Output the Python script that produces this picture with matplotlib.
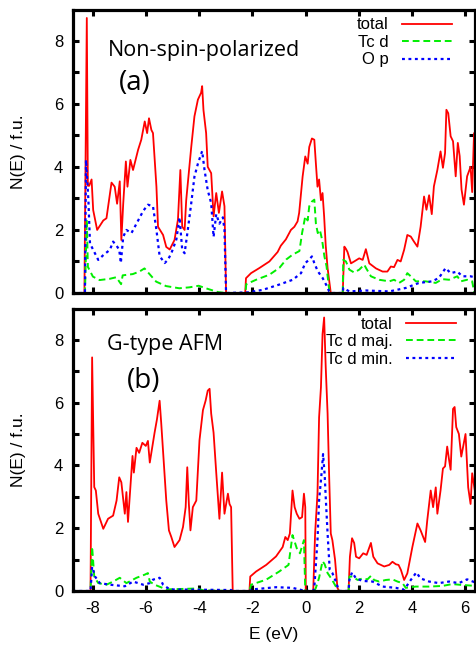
import matplotlib
matplotlib.use("Agg")
from matplotlib import pyplot as plt
from matplotlib.ticker import MultipleLocator

# Panel (a): non-spin-polarized, total
e_tot_a = [-8.75, -8.32, -8.23, -8.19, -8.14, -8.05, -7.99, -7.84, -7.61, -7.49, -7.30, -7.18, -7.09,
           -6.99, -6.93, -6.86, -6.76, -6.70, -6.59, -6.49, -6.30, -6.18, -6.05, -5.96, -5.89, -5.80,
           -5.74, -5.61, -5.55, -5.36, -5.24, -5.11, -4.93, -4.80, -4.71, -4.64, -4.55, -4.49, -4.30,
           -4.18, -4.05, -3.93, -3.89, -3.84, -3.74, -3.68, -3.55, -3.46, -3.36, -3.26, -3.14, -3.05,
           -2.99, -2.27, -2.24, -2.05, -1.74, -1.36, -1.05, -0.93, -0.74, -0.55, -0.42, -0.30, -0.24,
           -0.11, -0.01, 0.08, 0.14, 0.24, 0.33, 0.39, 0.45, 0.51, 0.58, 0.64, 0.70, 0.76, 0.83, 0.95,
           1.40, 1.46, 1.52, 1.58, 1.71, 1.83, 2.02, 2.15, 2.27, 2.40, 2.65, 2.90, 3.08, 3.21, 3.33,
           3.46, 3.58, 3.71, 3.83, 3.96, 4.08, 4.21, 4.33, 4.46, 4.55, 4.65, 4.75, 4.83, 4.96, 5.08,
           5.17, 5.25, 5.30, 5.37, 5.46, 5.55, 5.65, 5.73, 5.80, 5.87, 5.96, 6.08, 6.21, 6.27, 6.34, 6.45]
dos_tot_a = [0, 0, 8.72, 3.4, 3.4, 3.6, 2.63, 2.0, 2.3, 2.37, 3.5, 3.37, 2.83,
             3.54, 1.68, 2.83, 4.17, 3.37, 4.22, 3.9, 4.54, 4.86, 5.44, 5.07, 5.54, 5.17,
             5.07, 3.37, 2.1, 1.84, 1.46, 1.38, 1.68, 2.33, 3.9, 2.1, 2.0, 2.94, 4.63,
             5.6, 6.13, 6.35, 6.56, 5.8, 5.07, 4.0, 3.8, 2.43, 3.17, 2.54, 3.22, 2.75,
             0, 0, 0.47, 0.63, 0.79, 1.0, 1.3, 1.5, 1.7, 2.0, 2.1, 2.27, 2.54,
             3.69, 4.33, 4.1, 4.63, 4.9, 4.86, 4.1, 3.37, 3.6, 2.94, 3.17, 2.43, 1.5, 0.79, 0,
             0, 1.47, 1.4, 1.3, 0.94, 1.0, 1.1, 1.05, 1.39, 0.94, 0.78, 0.68, 0.68, 0.84, 0.82,
             1.05, 1.0, 1.37, 1.84, 1.79, 1.63, 1.47, 2.1, 3.06, 2.64, 3.1, 2.5, 3.38, 3.9, 4.49,
             3.97, 4.44, 5.81, 5.7, 4.97, 4.81, 3.7, 4.76, 4.34, 3.28, 2.8, 3.7, 4.0, 3.2, 5.07, 4.6]

# Panel (a): Tc d
e_tcd_a = [-8.75, -8.30, -8.23, -8.19, -8.00, -7.75, -7.37, -7.12, -6.94, -6.88, -6.50, -6.25, -6.06,
           -5.87, -5.62, -5.25, -4.75, -4.37, -4.02, -3.75, -3.30, -3.00,
           -2.26, -2.23, -1.86, -1.36, -0.98, -0.73, -0.48, -0.23, -0.13, -0.01, 0.08, 0.14, 0.24,
           0.33, 0.39, 0.46, 0.54, 0.62, 0.71, 0.79, 0.89, 0.96,
           1.40, 1.42, 1.52, 1.65, 1.83, 2.02, 2.21, 2.27, 2.46, 2.77, 3.15, 3.33, 3.52, 3.71, 3.83,
           3.96, 4.15, 4.52, 4.90, 5.15, 5.40, 5.71, 5.84, 6.08, 6.27, 6.34, 6.45]
dos_tcd_a = [0, 0, 2.32, 0.83, 0.52, 0.41, 0.45, 0.5, 0.28, 0.56, 0.6, 0.68, 0.78,
             0.6, 0.36, 0.22, 0.15, 0.18, 0.23, 0.15, 0.03, 0,
             0, 0.28, 0.42, 0.58, 0.8, 1.06, 1.22, 1.33, 1.9, 2.43, 2.3, 2.75, 2.9,
             2.96, 2.2, 1.9, 2.0, 1.7, 1.16, 0.85, 0.1, 0,
             0, 1.05, 1.0, 0.74, 0.65, 0.74, 0.9, 0.8, 0.53, 0.42, 0.37, 0.42, 0.32, 0.42, 0.63,
             0.53, 0.37, 0.37, 0.32, 0.44, 0.42, 0.53, 0.37, 0.42, 0.37, 0.05, 0.05]

# Panel (a): O p
e_op_a = [-8.75, -8.30, -8.26, -8.17, -8.11, -7.99, -7.80, -7.61, -7.36, -7.24, -7.11, -7.01, -6.95,
          -6.86, -6.74, -6.55, -6.36, -6.11, -5.93, -5.74, -5.61, -5.49, -5.30, -5.18, -5.05, -4.86,
          -4.74, -4.64, -4.55, -4.43, -4.30, -4.18, -4.05, -3.89, -3.80, -3.68, -3.55, -3.46, -3.36,
          -3.24, -3.11, -3.05, -2.99,
          -2.17, -1.61, -0.98, -0.48, -0.17, -0.01, 0.14, 0.24, 0.33, 0.46, 0.64, 0.77, 0.89, 0.96,
          1.40, 1.42, 1.65, 2.27, 3.15, 3.77, 4.27, 4.77, 5.02, 5.27, 5.46, 5.71, 5.90, 6.21, 6.45]
dos_op_a = [0, 0, 4.22, 2.95, 1.57, 1.37, 1.05, 1.2, 1.37, 1.63, 1.5, 1.37, 0.95,
            1.78, 2.0, 1.9, 2.2, 2.6, 2.8, 2.75, 2.0, 1.17, 0.95, 1.05, 1.26, 1.7,
            2.4, 1.37, 1.26, 2.0, 2.85, 3.69, 4.1, 4.5, 3.9, 3.26, 2.85, 1.78, 2.5,
            2.2, 2.4, 2.0, 0,
            0.02, 0.1, 0.27, 0.42, 0.63, 0.95, 1.06, 1.16, 0.95, 0.69, 0.48, 0.27, 0.05, 0,
            0, 0.16, 0.05, 0.08, 0.05, 0.16, 0.32, 0.37, 0.48, 0.79, 0.63, 0.68, 0.53, 0.53, 0.48]

# Panel (b): G-type AFM, total
e_tot_b = [-8.75, -8.09, -8.03, -7.95, -7.89, -7.80, -7.61, -7.43, -7.24, -7.11, -7.01, -6.93, -6.80,
           -6.74, -6.68, -6.59, -6.51, -6.46, -6.36, -6.26, -6.14, -6.01, -5.93, -5.86, -5.76, -5.68,
           -5.59, -5.49, -5.43, -5.34, -5.24, -5.14, -5.05, -4.93, -4.74, -4.61, -4.51, -4.45, -4.39,
           -4.33, -4.24, -4.11, -3.99, -3.86, -3.76, -3.68, -3.61, -3.55, -3.46, -3.36, -3.24, -3.14,
           -3.05, -2.92, -2.86, -2.80, -2.74,
           -2.11, -2.08, -1.86, -1.48, -1.11, -0.86, -0.76, -0.67, -0.59, -0.49, -0.41, -0.33, -0.23,
           -0.13, -0.06, -0.01, 0.01,
           0.29, 0.36, 0.45, 0.51, 0.58, 0.64, 0.70, 0.76, 0.83, 0.89, 0.95, 1.01, 1.11, 1.20, 1.26,
           1.62, 1.67, 1.75, 1.83, 1.90, 2.02, 2.17, 2.30, 2.46, 2.55, 2.71, 2.96, 3.15, 3.27, 3.40,
           3.50, 3.59, 3.71, 3.83, 4.02, 4.21, 4.33, 4.50, 4.58, 4.71, 4.80, 4.90, 4.96, 5.08, 5.17,
           5.25, 5.33, 5.40, 5.46, 5.55, 5.61, 5.67, 5.77, 5.86, 5.93, 6.02, 6.12, 6.21, 6.27, 6.37, 6.45]
dos_tot_b = [0, 0, 7.44, 3.31, 3.2, 2.46, 1.98, 2.3, 2.4, 2.88, 3.62, 3.46, 2.46,
             3.15, 2.2, 3.3, 4.3, 3.77, 4.56, 4.4, 4.72, 4.62, 4.78, 4.09, 4.62, 5.04,
             5.47, 6.06, 5.35, 4.2, 2.88, 1.93, 1.72, 1.4, 1.62, 2.04, 2.67, 3.94, 2.77,
             1.93, 2.67, 2.88, 4.8, 5.76, 6.06, 6.38, 6.44, 5.65, 5.04, 3.77, 2.3, 3.77,
             2.46, 3.1, 2.77, 2.67, 0,
             0, 0.46, 0.62, 0.83, 1.1, 1.4, 1.72, 1.62, 1.83, 3.2, 2.67, 2.46, 2.3,
             2.35, 3.1, 2.67, 0,
             0, 1.83, 3.1, 5.53, 6.49, 8.18, 8.71, 7.12, 5.65, 3.62, 1.83, 1.62, 1.0, 0.1, 0,
             0, 1.09, 1.68, 1.53, 1.09, 1.04, 1.2, 1.15, 1.53, 1.09, 0.88, 0.78, 0.83, 0.93, 0.85,
             0.83, 0.67, 0.35, 0.56, 1.4, 2.15, 1.93, 1.56, 2.25, 3.2, 2.67, 3.3, 2.46, 3.2, 3.9,
             3.97, 4.6, 4.18, 3.86, 5.8, 5.86, 5.22, 5.0, 4.28, 4.6, 5.0, 3.3, 2.77, 3.75, 3.2, 3.6]

# Panel (b): Tc d majority
e_maj_b = [-8.75, -8.09, -8.03, -7.95, -7.80, -7.49, -7.24, -6.99, -6.74, -6.36, -6.05, -5.93, -5.86,
           -5.68, -5.24, -4.05, -3.86, -2.74,
           -2.11, -2.05, -1.48, -0.99, -0.64, -0.49, -0.33, -0.21, -0.06, -0.01,
           0.33, 0.39, 0.51, 0.64, 0.72, 0.83, 0.95, 1.07, 1.20, 1.26,
           1.62, 1.65, 1.77, 1.96, 2.15, 2.33, 2.46, 2.58, 2.77, 3.02, 3.27, 3.46, 3.65, 3.77,
           4.15, 4.65, 5.15, 5.52, 5.90, 6.45]
dos_maj_b = [0, 0, 1.41, 0.46, 0.25, 0.2, 0.3, 0.42, 0.25, 0.42, 0.52, 0.57, 0.3,
             0.2, 0.05, 0.08, 0.02, 0,
             0, 0.2, 0.36, 0.62, 0.83, 1.78, 1.36, 1.2, 1.62, 0,
             0, 0.1, 0.42, 0.95, 0.85, 0.57, 0.42, 0.25, 0.05, 0,
             0, 0.46, 0.46, 0.35, 0.4, 0.37, 0.48, 0.35, 0.3, 0.35, 0.37, 0.3, 0.25, 0.1,
             0.14, 0.14, 0.16, 0.22, 0.19, 0.16]

# Panel (b): Tc d minority
e_min_b = [-8.75, -8.09, -8.03, -7.92, -7.74, -7.36, -6.80, -6.49, -6.11, -5.86, -5.74, -5.49, -5.36,
           -5.11, -2.80, -2.74,
           -2.11, -1.99, -1.11, -0.49, -0.01,
           0.29, 0.33, 0.45, 0.51, 0.59, 0.66, 0.72, 0.76, 0.83, 0.91, 1.01, 1.14, 1.24, 1.26,
           1.62, 1.65, 1.75, 1.90, 2.15, 2.52, 2.90, 3.40, 3.71, 3.96, 4.17, 4.33, 4.65, 5.02, 5.40,
           5.77, 6.08, 6.45]
dos_min_b = [0, 0, 0.77, 0.46, 0.25, 0.2, 0.15, 0.3, 0.2, 0.25, 0.36, 0.42, 0.2,
             0.05, 0.03, 0,
             0, 0.05, 0.12, 0.1, 0,
             0, 0.1, 1.62, 2.88, 3.62, 4.36, 3.7, 2.98, 1.83, 0.67, 0.57, 0.3, 0.05, 0,
             0, 0.35, 0.59, 0.4, 0.32, 0.3, 0.14, 0.1, 0.04, 0.35, 0.59, 0.4, 0.3, 0.25, 0.3,
             0.25, 0.37, 0.25]

x_ticks = [-8, -6, -4, -2, 0, 2, 4, 6]
y_ticks = [0, 2, 4, 6, 8]

RED = "#ff0000"
GREEN = "#00ee00"
BLUE = "#0000ff"
TICK_FONT = "Liberation Sans"
LABEL_FONT = "Open Sans"

fig = plt.figure(figsize=(4.77, 6.52), dpi=100)
ax_a = fig.add_axes([0.153, 0.5506, 0.843, 0.4344])
ax_b = fig.add_axes([0.153, 0.0936, 0.843, 0.4324])


def style_axes(ax, show_xlabels):
	ax.set_xlim(-8.75, 6.38)
	ax.set_ylim(0, 8.98)
	ax.set_xticks(x_ticks)
	ax.set_yticks(y_ticks)
	ax.yaxis.set_minor_locator(MultipleLocator(1))
	ax.tick_params(which="both", direction="in", top=True, right=True, length=4, width=2.2,
		labelsize=12, pad=7)
	for spine in ax.spines.values():
		spine.set_linewidth(2.3)
	for lab in ax.get_yticklabels() + ax.get_xticklabels():
		lab.set_fontfamily(TICK_FONT)
	if show_xlabels:
		ax.set_xticklabels([str(t) for t in x_ticks])
		ax.set_xlabel("E (eV)", fontsize=12.5, fontfamily=TICK_FONT, labelpad=8)
	else:
		ax.set_xticklabels([])
	ax.set_ylabel("N(E) / f.u.", fontsize=12.5, fontfamily=TICK_FONT, labelpad=20)


# Panel (a)
ax_a.plot(e_tot_a, dos_tot_a, color=RED, lw=1.3, label="total")
ax_a.plot(e_tcd_a, dos_tcd_a, color=GREEN, lw=1.4, dashes=(3.5, 2), label="Tc d")
ax_a.plot(e_op_a, dos_op_a, color=BLUE, lw=1.6, dashes=(1.3, 1.6), label="O p")
style_axes(ax_a, False)
ax_a.text(0.088, 0.855, "Non-spin-polarized", transform=ax_a.transAxes, fontsize=15.5,
	fontfamily=LABEL_FONT, va="center")
ax_a.text(0.115, 0.74, "(a)", transform=ax_a.transAxes, fontsize=20,
	fontfamily=LABEL_FONT, va="center")
ax_a.legend(loc="upper right", bbox_to_anchor=(0.975, 1.02), frameon=False, markerfirst=False,
	prop={"family": TICK_FONT, "size": 12}, handlelength=3.0, handletextpad=0.8,
	labelspacing=0.15, borderpad=0.3)

# Panel (b)
ax_b.plot(e_tot_b, dos_tot_b, color=RED, lw=1.3, label="total")
ax_b.plot(e_maj_b, dos_maj_b, color=GREEN, lw=1.4, dashes=(3.5, 2), label="Tc d maj.")
ax_b.plot(e_min_b, dos_min_b, color=BLUE, lw=1.6, dashes=(1.3, 1.6), label="Tc d min.")
style_axes(ax_b, True)
ax_b.text(0.085, 0.875, "G-type AFM", transform=ax_b.transAxes, fontsize=15.5,
	fontfamily=LABEL_FONT, va="center")
ax_b.text(0.135, 0.745, "(b)", transform=ax_b.transAxes, fontsize=20,
	fontfamily=LABEL_FONT, va="center")
ax_b.legend(loc="upper right", bbox_to_anchor=(0.985, 1.02), frameon=False, markerfirst=False,
	prop={"family": TICK_FONT, "size": 12}, handlelength=3.0, handletextpad=0.8,
	labelspacing=0.15, borderpad=0.3)

fig.savefig("out.png", dpi=100)
